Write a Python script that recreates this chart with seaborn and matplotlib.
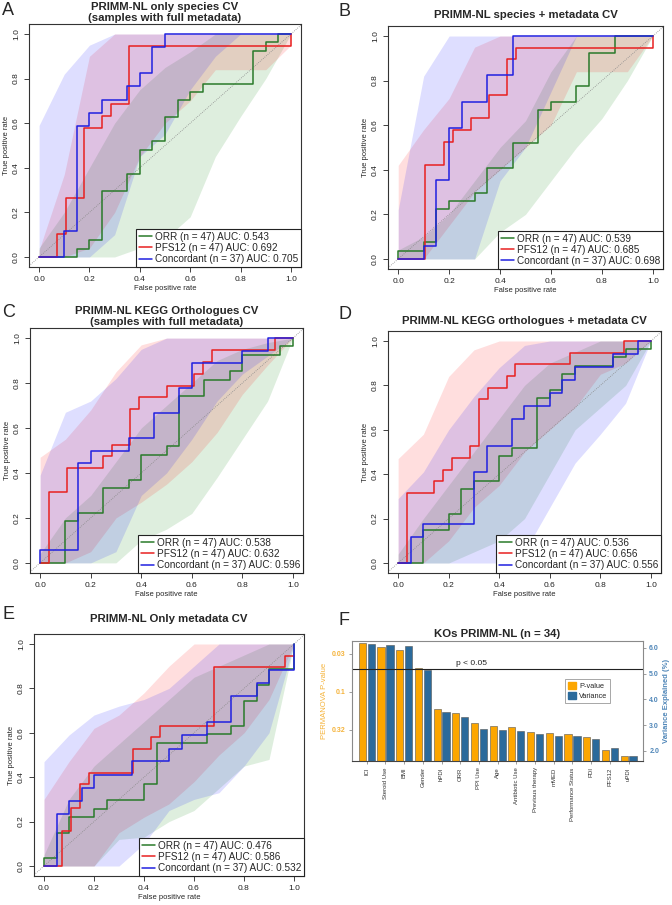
import numpy as np
import pandas as pd
import matplotlib
matplotlib.use("Agg")
import matplotlib.pyplot as plt
from matplotlib.lines import Line2D
from matplotlib.patches import Patch
import seaborn as sns

# ---------------------------------------------------------------- ROC data
# step curves: fpr where tpr jumps, and the tpr reached there
A_ORR_FPR = [0, 0.15, 0.20, 0.25, 0.35, 0.40, 0.45, 0.50, 0.55, 0.60, 0.65, 0.85, 0.90, 0.95, 1.0]
A_ORR_TPR = [0, 0.037, 0.074, 0.296, 0.370, 0.481, 0.519, 0.630, 0.704, 0.741, 0.778, 0.926, 0.963, 1.0, 1.0]
A_PFS_FPR = [0, 0.071, 0.107, 0.179, 0.250, 0.286, 0.357, 1.0, 1.0]
A_PFS_TPR = [0, 0.105, 0.263, 0.579, 0.632, 0.684, 0.947, 0.947, 1.0]
A_CON_FPR = [0, 0.10, 0.15, 0.20, 0.25, 0.35, 0.40, 0.45, 0.50, 1.0]
A_CON_TPR = [0, 0.118, 0.588, 0.647, 0.706, 0.765, 0.824, 0.941, 1.0, 1.0]

B_ORR_FPR = [0, 0, 0.10, 0.15, 0.20, 0.30, 0.35, 0.45, 0.55, 0.60, 0.70, 0.75, 0.85, 1.0]
B_ORR_TPR = [0, 0.037, 0.074, 0.222, 0.259, 0.296, 0.407, 0.519, 0.667, 0.704, 0.778, 0.926, 1.0, 1.0]
B_PFS_FPR = [0, 0.107, 0.179, 0.214, 0.286, 0.357, 0.429, 0.464, 1.0, 1.0]
B_PFS_TPR = [0, 0.421, 0.526, 0.579, 0.632, 0.737, 0.895, 0.947, 0.947, 1.0]
B_CON_FPR = [0, 0.10, 0.15, 0.20, 0.25, 0.35, 0.45, 1.0]
B_CON_TPR = [0, 0.059, 0.353, 0.588, 0.706, 0.824, 1.0, 1.0]

C_ORR_FPR = [0, 0.10, 0.15, 0.25, 0.35, 0.40, 0.50, 0.55, 0.65, 0.75, 0.80, 0.95, 1.0]
C_ORR_TPR = [0, 0.185, 0.222, 0.333, 0.370, 0.481, 0.519, 0.741, 0.815, 0.852, 0.926, 0.963, 1.0]
C_PFS_FPR = [0, 0.036, 0.107, 0.250, 0.286, 0.357, 0.393, 0.500, 0.607, 0.643, 0.679, 0.929, 1.0]
C_PFS_TPR = [0, 0.316, 0.421, 0.474, 0.526, 0.684, 0.737, 0.789, 0.842, 0.895, 0.947, 1.0, 1.0]
C_CON_FPR = [0, 0, 0.15, 0.20, 0.35, 0.45, 0.55, 0.60, 0.80, 0.90, 1.0]
C_CON_TPR = [0, 0.056, 0.444, 0.500, 0.556, 0.667, 0.778, 0.889, 0.944, 1.0, 1.0]

D_ORR_FPR = [0, 0.10, 0.20, 0.25, 0.30, 0.40, 0.45, 0.55, 0.60, 0.65, 0.70, 0.85, 0.90, 1.0]
D_ORR_TPR = [0, 0.148, 0.222, 0.333, 0.370, 0.481, 0.519, 0.741, 0.778, 0.852, 0.889, 0.926, 0.963, 1.0]
D_PFS_FPR = [0, 0.036, 0.143, 0.179, 0.214, 0.286, 0.321, 0.357, 0.429, 0.464, 0.679, 0.893, 1.0]
D_PFS_TPR = [0, 0.316, 0.368, 0.421, 0.474, 0.526, 0.737, 0.789, 0.842, 0.895, 0.947, 1.0, 1.0]
D_CON_FPR = [0, 0.05, 0.10, 0.30, 0.35, 0.45, 0.50, 0.60, 0.65, 0.70, 0.85, 0.95, 1.0]
D_CON_TPR = [0, 0.118, 0.176, 0.412, 0.529, 0.647, 0.706, 0.765, 0.824, 0.882, 0.941, 1.0, 1.0]

E_ORR_FPR = [0, 0, 0.05, 0.10, 0.20, 0.25, 0.40, 0.45, 0.65, 0.75, 0.80, 0.85, 0.90, 1.0]
E_ORR_TPR = [0, 0.037, 0.148, 0.222, 0.259, 0.296, 0.370, 0.556, 0.593, 0.630, 0.741, 0.815, 0.889, 1.0]
E_PFS_FPR = [0, 0.071, 0.107, 0.143, 0.179, 0.357, 0.429, 0.464, 0.679, 0.964, 1.0]
E_PFS_TPR = [0, 0.158, 0.263, 0.368, 0.421, 0.526, 0.579, 0.632, 0.895, 0.947, 0.947]
E_CON_FPR = [0, 0.05, 0.10, 0.15, 0.20, 0.35, 0.50, 0.55, 0.65, 0.75, 0.85, 0.90, 1.0]
E_CON_TPR = [0, 0.235, 0.294, 0.353, 0.412, 0.471, 0.529, 0.588, 0.647, 0.765, 0.824, 0.882, 1.0]

# CV spread bands, sampled on BAND_X
BAND_X = [0, 0.1, 0.2, 0.3, 0.4, 0.5, 0.6, 0.7, 0.8, 0.9, 1.0]
A_ORR_LO = [0, 0, 0, 0, 0.04, 0.08, 0.18, 0.45, 0.63, 0.80, 1.0]
A_ORR_HI = [0.04, 0.20, 0.40, 0.60, 0.75, 0.85, 0.92, 1.0, 1.0, 1.0, 1.0]
A_PFS_LO = [0, 0, 0.04, 0.20, 0.45, 0.60, 0.70, 0.84, 0.84, 0.84, 0.95]
A_PFS_HI = [0.03, 0.37, 0.90, 1.0, 1, 1, 1, 1, 1, 1, 1]
A_CON_LO = [0, 0, 0, 0.10, 0.45, 0.55, 0.75, 0.90, 1.0, 1.0, 1.0]
A_CON_HI = [0.59, 0.82, 0.95, 1, 1, 1, 1, 1, 1, 1, 1]

B_ORR_LO = [0, 0, 0, 0, 0.12, 0.20, 0.35, 0.50, 0.63, 0.80, 1.0]
B_ORR_HI = [0.04, 0.10, 0.20, 0.35, 0.50, 0.62, 0.84, 1.0, 1, 1, 1]
B_PFS_LO = [0, 0, 0.15, 0.30, 0.40, 0.50, 0.60, 0.84, 0.84, 0.84, 1.0]
B_PFS_HI = [0.42, 0.58, 0.72, 0.95, 1, 1, 1, 1, 1, 1, 1]
B_CON_LO = [0, 0, 0, 0, 0.35, 0.50, 0.75, 1.0, 1, 1, 1]
B_CON_HI = [0.22, 0.82, 1.0, 1, 1, 1, 1, 1, 1, 1, 1]

C_ORR_LO = [0, 0, 0, 0, 0.10, 0.15, 0.22, 0.38, 0.55, 0.72, 1.0]
C_ORR_HI = [0.04, 0.20, 0.30, 0.45, 0.60, 0.70, 0.80, 0.90, 0.95, 0.98, 1.0]
C_PFS_LO = [0, 0, 0.05, 0.20, 0.27, 0.35, 0.45, 0.58, 0.75, 0.88, 1.0]
C_PFS_HI = [0.47, 0.55, 0.68, 0.85, 0.97, 1, 1, 1, 1, 1, 1]
C_CON_LO = [0, 0, 0, 0.05, 0.30, 0.40, 0.55, 0.72, 0.84, 0.92, 1.0]
C_CON_HI = [0.39, 0.67, 0.72, 0.82, 0.95, 1, 1, 1, 1, 1, 1]

D_ORR_LO = [0, 0, 0, 0.05, 0.10, 0.20, 0.40, 0.60, 0.70, 0.80, 1.0]
D_ORR_HI = [0.04, 0.20, 0.35, 0.50, 0.65, 0.80, 0.90, 0.95, 1, 1, 1]
D_PFS_LO = [0, 0, 0.10, 0.25, 0.35, 0.50, 0.60, 0.70, 0.85, 0.90, 1.0]
D_PFS_HI = [0.47, 0.58, 0.84, 0.96, 1, 1, 1, 1, 1, 1, 1]
D_CON_LO = [0, 0, 0, 0, 0, 0.05, 0.25, 0.45, 0.58, 0.72, 1.0]
D_CON_HI = [0.29, 0.41, 0.60, 0.75, 0.88, 0.98, 1, 1, 1, 1, 1]

E_ORR_LO = [0, 0, 0, 0.12, 0.13, 0.20, 0.25, 0.35, 0.45, 0.48, 1.0]
E_ORR_HI = [0.05, 0.30, 0.45, 0.55, 0.65, 0.75, 0.85, 0.90, 0.95, 1, 1]
E_PFS_LO = [0, 0, 0, 0.15, 0.22, 0.28, 0.38, 0.50, 0.60, 0.75, 1.0]
E_PFS_HI = [0.30, 0.47, 0.62, 0.68, 0.78, 0.90, 1.0, 1, 1, 1, 1]
E_CON_LO = [0, 0, 0, 0, 0.10, 0.25, 0.30, 0.33, 0.45, 0.60, 1.0]
E_CON_HI = [0.47, 0.59, 0.68, 0.72, 0.75, 0.80, 0.90, 1.0, 1, 1, 1]

OUTCOMES = ["ORR", "PFS12", "Concordant"]
N_SAMPLES = [47, 47, 37]
A_AUC = [0.543, 0.692, 0.705]
B_AUC = [0.539, 0.685, 0.698]
C_AUC = [0.538, 0.632, 0.596]
D_AUC = [0.536, 0.656, 0.556]
E_AUC = [0.476, 0.586, 0.532]

TITLES = [
    "PRIMM-NL only species CV\n(samples with full metadata)",
    "PRIMM-NL species + metadata CV",
    "PRIMM-NL KEGG Orthologues CV\n(samples with full metadata)",
    "PRIMM-NL KEGG orthologues + metadata CV",
    "PRIMM-NL Only metadata CV",
]

# ---------------------------------------------------------------- PERMANOVA data
F_VARS = ["ICI", "Steroid Use", "BMI", "Gender", "hPDI", "ORR", "PPI Use", "Age",
          "Antibiotic Use", "Previous therapy", "mMED", "Performance Status", "PDI",
          "PFS12", "uPDI"]
F_PVALUE = [0.023, 0.026, 0.028, 0.048, 0.17, 0.19, 0.26, 0.28, 0.29, 0.34, 0.35,
            0.36, 0.39, 0.58, 0.70]
F_VARIANCE = [6.16, 6.13, 6.08, 5.16, 3.52, 3.33, 2.87, 2.82, 2.78, 2.67, 2.59,
              2.59, 2.47, 2.10, 1.81]
P_TICKS = [0.0316, 0.1, 0.316]
P_TICK_LABELS = ["0.03", "0.1", "0.32"]
VAR_TICKS = [2.0, 3.0, 4.0, 5.0, 6.0]

# ---------------------------------------------------------------- style
sns.set_theme(style="ticks")
plt.rcParams["font.family"] = ["Liberation Sans", "DejaVu Sans"]

LINE_COLORS = ["#2a7a2a", "#e82020", "#2020e0"]
BAND_COLORS = ["#008000", "#ff0000", "#0000ff"]
ORANGE = "#fca600"
BLUE = "#2b6a9b"

W, H = 672, 905


def rect(left, top, right, bottom):
    return [left / W, 1 - bottom / H, (right - left) / W, (bottom - top) / H]


def draw_roc(ax, curves, bands, aucs, title, title_pad):
    for (lo, hi), color in zip(bands, BAND_COLORS):
        ax.fill_between(BAND_X, lo, hi, color=color, alpha=0.13, linewidth=0)
    ax.axline((0, 0), (1, 1), color="#8a8a8a", lw=0.6, ls=(0, (1, 1.5)))
    for (fpr, tpr), color in zip(curves, LINE_COLORS):
        sns.lineplot(x=fpr, y=tpr, color=color, lw=1.1, estimator=None, sort=False,
                     drawstyle="steps-post", legend=False, ax=ax)
    ax.set_xlim(-0.04, 1.04)
    ax.set_ylim(-0.045, 1.045)
    ticks = [0, 0.2, 0.4, 0.6, 0.8, 1.0]
    ax.set_xticks(ticks)
    ax.set_yticks(ticks)
    ax.set_xticklabels([f"{t:.1f}" for t in ticks])
    ax.set_yticklabels([f"{t:.1f}" for t in ticks], rotation=90, va="center")
    ax.tick_params(length=3.5, width=0.6, labelsize=6, pad=3, colors="#222222")
    ax.set_xlabel("False positive rate", fontsize=5.5, labelpad=1.5)
    ax.set_ylabel("True positive rate", fontsize=5.5, labelpad=2)
    for sp in ax.spines.values():
        sp.set_visible(True)
        sp.set_color("#333333")
        sp.set_linewidth(0.8)
    ax.set_title(title, fontsize=8.2, fontweight="bold", pad=title_pad, linespacing=1.1)
    handles = [Line2D([], [], color=c, lw=1.1) for c in LINE_COLORS]
    labels = [f"{o} (n = {n}) AUC: {a:.3f}" for o, n, a in zip(OUTCOMES, N_SAMPLES, aucs)]
    leg = ax.legend(handles, labels, loc="lower right", borderaxespad=0, fontsize=7.2,
                    frameon=True, fancybox=False, edgecolor="#222222", framealpha=1,
                    handlelength=1.3, handletextpad=0.3, labelspacing=0.12, borderpad=0.3)
    leg.get_frame().set_linewidth(0.8)


fig = plt.figure(figsize=(W / 100, H / 100), dpi=100)

panels = [
    (rect(29, 24, 301, 267),
     [(A_ORR_FPR, A_ORR_TPR), (A_PFS_FPR, A_PFS_TPR), (A_CON_FPR, A_CON_TPR)],
     [(A_ORR_LO, A_ORR_HI), (A_PFS_LO, A_PFS_HI), (A_CON_LO, A_CON_HI)], A_AUC, 2),
    (rect(388, 26, 663, 269),
     [(B_ORR_FPR, B_ORR_TPR), (B_PFS_FPR, B_PFS_TPR), (B_CON_FPR, B_CON_TPR)],
     [(B_ORR_LO, B_ORR_HI), (B_PFS_LO, B_PFS_HI), (B_CON_LO, B_CON_HI)], B_AUC, 6),
    (rect(30, 328, 303, 573),
     [(C_ORR_FPR, C_ORR_TPR), (C_PFS_FPR, C_PFS_TPR), (C_CON_FPR, C_CON_TPR)],
     [(C_ORR_LO, C_ORR_HI), (C_PFS_LO, C_PFS_HI), (C_CON_LO, C_CON_HI)], C_AUC, 2),
    (rect(388, 331, 661, 573),
     [(D_ORR_FPR, D_ORR_TPR), (D_PFS_FPR, D_PFS_TPR), (D_CON_FPR, D_CON_TPR)],
     [(D_ORR_LO, D_ORR_HI), (D_PFS_LO, D_PFS_HI), (D_CON_LO, D_CON_HI)], D_AUC, 5),
    (rect(34, 634, 304, 876),
     [(E_ORR_FPR, E_ORR_TPR), (E_PFS_FPR, E_PFS_TPR), (E_CON_FPR, E_CON_TPR)],
     [(E_ORR_LO, E_ORR_HI), (E_PFS_LO, E_PFS_HI), (E_CON_LO, E_CON_HI)], E_AUC, 8.5),
]

for (r, curves, bands, aucs, pad), title in zip(panels, TITLES):
    ax = fig.add_axes(r)
    draw_roc(ax, curves, bands, aucs, title, pad)

# ---------------------------------------------------------------- panel F
n = len(F_VARS)
f_df = pd.DataFrame({
    "variable": F_VARS * 2,
    "measure": ["P-value"] * n + ["Variance"] * n,
    "neglogp": list(-np.log10(F_PVALUE)) + [np.nan] * n,
    "variance": [np.nan] * n + F_VARIANCE,
})
palette = {"P-value": ORANGE, "Variance": BLUE}

axf = fig.add_axes(rect(352, 641, 643, 761))
sns.barplot(data=f_df, x="variable", y="neglogp", hue="measure", order=F_VARS,
            hue_order=["P-value", "Variance"], palette=palette, saturation=1,
            width=0.96, gap=0.2, errorbar=None, edgecolor="#555555", linewidth=0.4,
            legend=False, ax=axf)
axf2 = axf.twinx()
sns.barplot(data=f_df, x="variable", y="variance", hue="measure", order=F_VARS,
            hue_order=["P-value", "Variance"], palette=palette, saturation=1,
            width=0.96, gap=0.2, errorbar=None, edgecolor="#555555", linewidth=0.4,
            legend=False, ax=axf2)
axf.set_zorder(axf2.get_zorder() + 1)
axf.patch.set_visible(False)

axf.set_xlim(-0.79, n - 1 + 0.77)
axf.set_ylim(0.09, 1.67)
axf2.set_ylim(1.61, 6.27)
axf.axhline(-np.log10(0.05), color="#222222", lw=0.8)
axf.text(5.6, -np.log10(0.05) + 0.03, "p < 0.05", fontsize=6, ha="center", va="bottom",
         color="#222222")

axf.set_xticks(range(n))
axf.set_xticklabels(F_VARS, rotation=90, fontsize=4.3, color="#333333")
axf.set_yticks(-np.log10(P_TICKS))
axf.set_yticklabels(P_TICK_LABELS, fontsize=5, fontweight="bold", color="#f5b33a")
axf2.set_yticks(VAR_TICKS)
axf2.set_yticklabels([f"{v:.1f}" for v in VAR_TICKS], fontsize=5, fontweight="bold",
                     color="#4f86b8")
axf.tick_params(axis="both", length=2.5, width=0.5, color="#777777", pad=2)
axf2.tick_params(axis="y", length=2.5, width=0.5, color="#777777", pad=2)
axf.set_xlabel("")
axf.set_ylabel("PERMANOVA P-value", fontsize=5.5, color="#f5b33a", labelpad=3)
axf2.set_ylabel("Variance Explained (%)", fontsize=5.5, color="#4f86b8",
                fontweight="bold", labelpad=3)
for sp in axf2.spines.values():
    sp.set_visible(False)
for name, sp in axf.spines.items():
    sp.set_visible(True)
    sp.set_linewidth(0.8)
    sp.set_color("#444444" if name == "bottom" else "#8a8a8a")
axf.set_title("KOs PRIMM-NL (n = 34)", fontsize=8.2, fontweight="bold", pad=3)
leg = axf.legend([Patch(color=ORANGE), Patch(color=BLUE)], ["P-value", "Variance"],
                 loc="upper left", bbox_to_anchor=(0.72, 0.71), fontsize=5.3,
                 frameon=True, fancybox=False, edgecolor="#999999", framealpha=1,
                 handlelength=1.0, handleheight=1.0, handletextpad=0.5,
                 labelspacing=0.3, borderpad=0.4)
leg.get_frame().set_linewidth(0.6)

# ---------------------------------------------------------------- panel letters
for letter, (x, y) in zip("ABCDEF", [(2, 2), (338, 3), (2, 304), (338, 306), (2, 606), (339, 612)]):
    fig.text(x / W, 1 - y / H, letter, fontsize=13, va="top", ha="left")

fig.savefig("out.png", dpi=100)
